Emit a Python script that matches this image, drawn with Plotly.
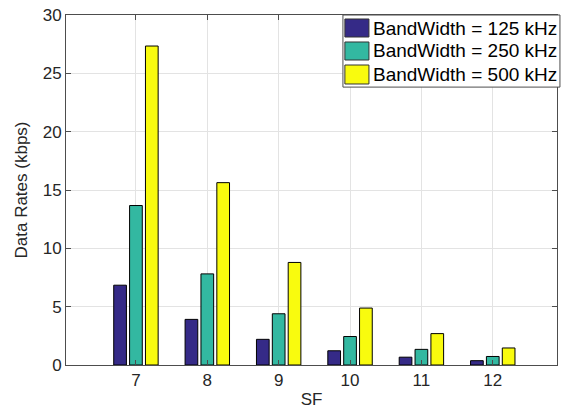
import plotly.graph_objects as go

sf = [7, 8, 9, 10, 11, 12]
bw125 = [6.84, 3.91, 2.20, 1.22, 0.67, 0.37]
bw250 = [13.67, 7.81, 4.39, 2.44, 1.34, 0.73]
bw500 = [27.34, 15.63, 8.79, 4.88, 2.69, 1.46]
names = ["BandWidth = 125 kHz", "BandWidth = 250 kHz", "BandWidth = 500 kHz"]
colors = ["rgb(53,42,135)", "rgb(51,184,161)", "rgb(249,251,14)"]
y_ticks = [0, 5, 10, 15, 20, 25, 30]

FONT = "Liberation Sans, Arial, sans-serif"
TXT = "#262626"

fig = go.Figure()
for name, vals, col in zip(names, [bw125, bw250, bw500], colors):
    fig.add_trace(go.Bar(
        x=sf, y=vals, name=name, showlegend=False,
        marker=dict(color=col, line=dict(color="black", width=1)),
    ))

axis_common = dict(
    showline=True, linecolor="#4d4d4d", linewidth=1, mirror="ticks",
    ticks="inside", ticklen=5, tickcolor="#4d4d4d",
    showgrid=True, gridcolor="#e3e3e3", gridwidth=1,
    zeroline=False, automargin=False,
    tickfont=dict(family=FONT, size=17, color=TXT),
)

# MATLAB-style legend box (drawn in paper coordinates of the plot area)
box = dict(x0=0.564, x1=1.006, y0=0.794, y1=1.0)
rows = [(0.9886, 0.9371), (0.9229, 0.8714), (0.8571, 0.8029)]
shapes = [dict(type="rect", xref="paper", yref="paper", layer="above",
               x0=box["x0"], x1=box["x1"], y0=box["y0"], y1=box["y1"],
               fillcolor="white", line=dict(color="#4d4d4d", width=1))]
annotations = []
for (top, bot), name, col in zip(rows, names, colors):
    shapes.append(dict(type="rect", xref="paper", yref="paper", layer="above",
                       x0=0.568, x1=0.617, y0=bot, y1=top,
                       fillcolor=col, line=dict(color="#333333", width=1)))
    annotations.append(dict(xref="paper", yref="paper", x=0.621, y=(top + bot) / 2,
                            xanchor="left", yanchor="middle", showarrow=False,
                            text=name, font=dict(family=FONT, size=19, color="black")))

fig.update_layout(
    width=566, height=410,
    margin=dict(l=66, r=9, t=15, b=45),
    paper_bgcolor="white", plot_bgcolor="white",
    barmode="group", bargap=0.333, bargroupgap=0.2,
    font=dict(family=FONT, color=TXT),
    showlegend=False,
    xaxis=dict(
        range=[6.02, 12.9], tickmode="array", tickvals=sf,
        ticktext=[str(v) for v in sf],
        title=dict(text="SF", font=dict(family=FONT, size=17, color=TXT), standoff=3),
        **axis_common,
    ),
    yaxis=dict(
        range=[0, 30], tickmode="array", tickvals=y_ticks,
        title=dict(text="Data Rates (kbps)", font=dict(family=FONT, size=17, color=TXT), standoff=10),
        **axis_common,
    ),
    shapes=shapes,
    annotations=annotations,
)

fig.write_html(
    "out.html",
    config={"displayModeBar": False},
    post_script="document.body.style.margin='0';document.body.style.overflow='hidden';",
)
